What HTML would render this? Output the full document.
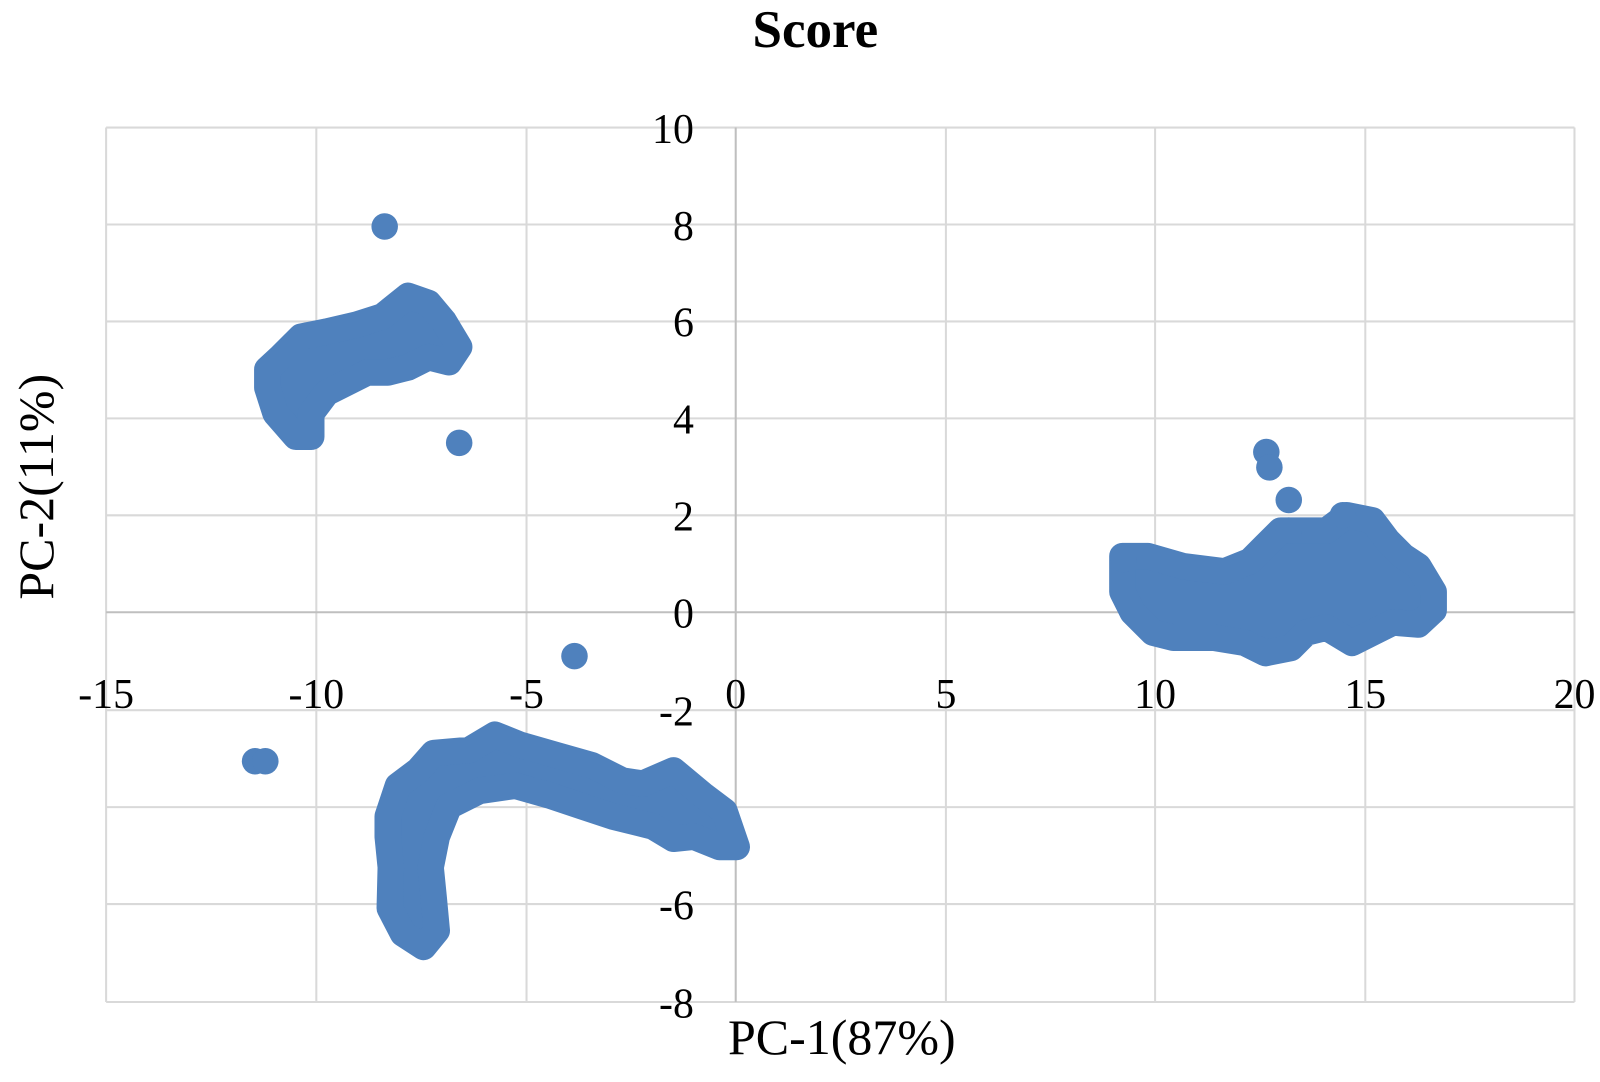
<!DOCTYPE html>
<html><head><meta charset="utf-8"><style>
body{margin:0;background:#fff;}
svg{display:block;font-family:"Liberation Serif",serif;}
</style></head><body>
<svg width="1600" height="1082" viewBox="0 0 1600 1082" xmlns="http://www.w3.org/2000/svg">
<rect width="1600" height="1082" fill="#fff"/>
<g transform="scale(1.0204)">
<text x="799" y="46" font-size="52" font-weight="bold" text-anchor="middle">Score</text>
<g stroke="#d9d9d9" stroke-width="2">
<line x1="104" y1="125" x2="104" y2="982"/>
<line x1="310" y1="125" x2="310" y2="982"/>
<line x1="516" y1="125" x2="516" y2="982"/>
<line x1="927" y1="125" x2="927" y2="982"/>
<line x1="1132" y1="125" x2="1132" y2="982"/>
<line x1="1338" y1="125" x2="1338" y2="982"/>
<line x1="1543" y1="125" x2="1543" y2="982"/>
<line x1="104" y1="125" x2="1543" y2="125"/>
<line x1="104" y1="220" x2="1543" y2="220"/>
<line x1="104" y1="315" x2="1543" y2="315"/>
<line x1="104" y1="410" x2="1543" y2="410"/>
<line x1="104" y1="505" x2="1543" y2="505"/>
<line x1="104" y1="696" x2="1543" y2="696"/>
<line x1="104" y1="791" x2="1543" y2="791"/>
<line x1="104" y1="886" x2="1543" y2="886"/>
<line x1="104" y1="982" x2="1543" y2="982"/>
</g>
<g stroke="#bfbfbf" stroke-width="2">
<line x1="721" y1="125" x2="721" y2="982"/>
<line x1="104" y1="600" x2="1543" y2="600"/>
</g>
<g font-size="41" text-anchor="end">
<text x="680" y="140">10</text>
<text x="680" y="235">8</text>
<text x="680" y="330">6</text>
<text x="680" y="425">4</text>
<text x="680" y="520">2</text>
<text x="680" y="615">0</text>
<text x="680" y="711">-2</text>
<text x="680" y="806">-4</text>
<text x="680" y="901">-6</text>
<text x="680" y="997">-8</text>
</g>
<g font-size="41" text-anchor="middle">
<text x="104" y="694">-15</text>
<text x="310" y="694">-10</text>
<text x="516" y="694">-5</text>
<text x="721" y="694">0</text>
<text x="927" y="694">5</text>
<text x="1132" y="694">10</text>
<text x="1338" y="694">15</text>
<text x="1543" y="694">20</text>
</g>
<text x="825" y="1033" font-size="49" text-anchor="middle">PC-1(87%)</text>
<text transform="translate(52,477) rotate(-90)" font-size="49" text-anchor="middle">PC-2(11%)</text>
<g fill="#4f81bd" stroke="#4f81bd" stroke-width="26" stroke-linejoin="round">
<polygon points="262,380 262,362 275,350 295,330 320,325 350,318 375,310 400,290 420,297 435,315 450,340 440,355 420,350 400,360 380,365 360,365 340,375 320,385 305,405 305,428 290,428 270,405"/>
<polygon points="380,800 390,770 410,755 425,738 460,735 485,720 510,730 545,740 580,750 610,765 630,768 660,755 690,780 710,795 722,830 705,830 680,820 660,822 640,810 600,800 570,790 540,780 505,770 470,775 440,790 428,820 422,850 425,880 428,912 415,928 395,915 382,890 383,850 380,820"/>
<polygon points="1100,545 1125,545 1160,555 1200,560 1225,550 1240,535 1255,520 1275,520 1300,520 1320,505 1345,510 1360,530 1375,545 1390,555 1405,580 1405,598 1390,612 1365,610 1345,620 1325,630 1300,615 1280,620 1265,635 1240,640 1220,630 1190,625 1150,625 1130,620 1110,600 1100,580"/>
</g>
<g fill="#4f81bd">
<circle cx="377" cy="222" r="13"/>
<circle cx="450" cy="434" r="13"/>
<circle cx="563" cy="643" r="13"/>
<circle cx="250" cy="746" r="13"/>
<circle cx="260" cy="746" r="13"/>
<circle cx="1241" cy="443" r="13"/>
<circle cx="1244" cy="458" r="13"/>
<circle cx="1263" cy="490" r="13"/>
<circle cx="1101" cy="548" r="13"/>
<circle cx="1263" cy="520" r="13"/>
<circle cx="1316" cy="505" r="13"/>
</g>
</g>
</svg>
</body></html>
